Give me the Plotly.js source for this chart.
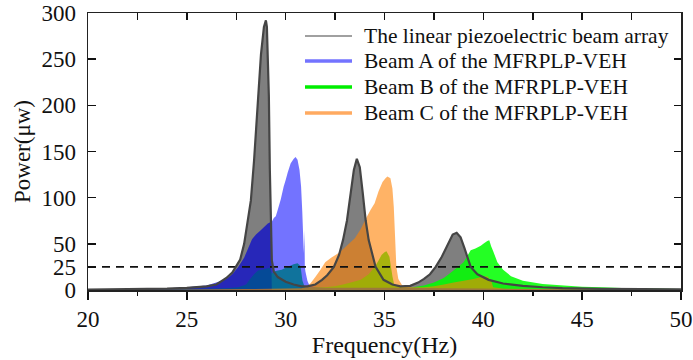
<!DOCTYPE html>
<html>
<head>
<meta charset="utf-8">
<script src="https://cdn.plot.ly/plotly-3.0.1.min.js"></script>
<style>html,body{margin:0;padding:0;background:#fff;}#chart{width:693px;height:360px;}</style>
</head>
<body>
<div id="chart"></div>
<script>
// ---- data ----
const seriesNames = [
  "The linear piezoelectric beam array",
  "Beam A of the MFRPLP-VEH",
  "Beam B of the MFRPLP-VEH",
  "Beam C of the MFRPLP-VEH"
];

const linearFreq  = [20,21,22,23,24,25,25.5,26,26.5,27,27.3,27.5,27.7,27.9,28.1,28.24,28.4,28.58,28.75,28.9,29,29.05,29.1,29.15,29.2,29.25,29.3,29.4,29.6,30,30.4,30.8,31.1,31.5,31.84,32.1,32.44,32.7,32.9,33.1,33.3,33.45,33.6,33.75,33.9,34.05,34.2,34.55,34.95,35.4,35.8,36.3,36.7,37,37.3,37.59,37.9,38.2,38.45,38.65,38.85,39.05,39.2,39.36,39.7,40.27,41,42,43,44,46,50];
const linearPower = [0.4,0.5,0.7,1,1.5,2.3,3,4,6,13,19,26,33,50,75,97,140,206,255,285,292,285,255,210,130,60,32,20,14,9,6,4,4,6,11,16,25,38,54,75,105,130,142,133,105,75,54,25,11,6,4,4.5,8,12,17,25,36,50,60,62,57,45,35,25,17,11,7,4.5,3,2,1.3,0.8];

const beamAFreq  = [20,22,24,25,26,26.5,27,27.3,27.6,27.9,28.1,28.3,28.5,28.7,28.9,29.1,29.2,29.3,29.4,29.5,29.6,29.75,29.9,30,30.1,30.25,30.4,30.5,30.6,30.7,30.78,30.84,30.88,30.92,30.95,30.97,31,31.1,31.2,31.5,32,34,36,38,40,42,50];
const beamAPower = [0.5,1,2,3,5,8,12,17,25,35,45,55,60,64,68,72,73,74,78,80,87,98,112,119,127,137,142,144,141,130,112,85,62,40,65,25,20,10,5,3,2.5,2.5,2.5,2,1.5,1,0.5];
// second (up-sweep) layer of beam A, ending at the jump-down point
const beamAUpFreq  = [20,22,24,25,26,26.5,27,27.3,27.6,27.9,28.1,28.3,28.5,28.7,28.9,29.1,29.2,29.25,29.3];
const beamAUpPower = [0.5,1,2,3,5,8,12,17,25,35,45,55,60,64,68,72,73,73,0];

const beamBFreq  = [20,25,27,27.6,28,28.2,28.4,28.6,28.8,29,29.2,29.3,29.4,29.6,29.8,30,30.2,30.4,30.6,30.75,30.85,30.95,31.2,32,32.5,32.9,33.3,33.8,34.2,34.5,34.7,34.85,35,35.1,35.25,35.4,35.5,35.8,36.3,37,37.5,38,38.3,38.6,39,39.36,39.6,39.87,40,40.2,40.3,40.4,40.5,40.71,41,41.4,42,43,44.26,45,46,47,48.5,50];
const beamBPower = [0.3,1,2,3,6,12,17,21,22,23,24,18,20,21,22,24,26,28,29,26,10,4,3,3,4,6,8,11,17,25,32,38,41,42,36,15,5,3,2.5,5,8,13,18,23,30,43,45,48,50,53,54,47,42,30,22,15,10,6.5,4.5,3.5,3,2.2,1.5,1];

const beamCFreq  = [20,25,28,30,30.8,31,31.25,31.5,31.76,32,32.3,32.6,32.9,33.2,33.5,33.8,34.1,34.3,34.5,34.7,34.9,35.05,35.15,35.3,35.4,35.47,35.55,35.6,35.7,35.9,36.3,37,37.5,38,38.5,39,39.5,39.9,40.2,40.4,40.5,41,43,50];
const beamCPower = [0.3,0.5,1,1.5,2,3,7,14,22,30,35,39,44,50,56,66,79,87,94,107,117,121,123,121,110,90,50,25,12,5,3,3,4,6,8,10,12,14,15,10,3,1.5,1,0.5];

const threshold = 25;
const xRange = [20, 50];
const yRange = [0, 300];
const yTicks = [0, 25, 50, 100, 150, 200, 250, 300];

// ---- styling ----
const serif = "Liberation Serif, Times New Roman, serif";
const legendColors = ["#a0a0a0", "#7373ff", "#00ee00", "#ffaa60"];
const legendWidths = [2, 3.5, 3.5, 3.5];

const traces = [
  {x: linearFreq, y: linearPower, type: "scatter", mode: "none", fill: "tozeroy",
   fillcolor: "rgba(60,60,60,0.66)", showlegend: false, hoverinfo: "skip"},
  {x: beamBFreq, y: beamBPower, type: "scatter", mode: "none", fill: "tozeroy",
   fillcolor: "rgba(0,255,0,0.86)", showlegend: false, hoverinfo: "skip"},
  {x: beamAFreq, y: beamAPower, type: "scatter", mode: "none", fill: "tozeroy",
   fillcolor: "rgba(0,0,255,0.55)", showlegend: false, hoverinfo: "skip"},
  {x: beamAUpFreq, y: beamAUpPower, type: "scatter", mode: "none", fill: "tozeroy",
   fillcolor: "rgba(0,0,160,0.3)", showlegend: false, hoverinfo: "skip"},
  {x: beamCFreq, y: beamCPower, type: "scatter", mode: "none", fill: "tozeroy",
   fillcolor: "rgba(255,128,0,0.6)", showlegend: false, hoverinfo: "skip"},
  {x: xRange, y: [threshold, threshold], type: "scatter", mode: "lines",
   line: {color: "#111", width: 1.6, dash: "8px,6px"}, showlegend: false, hoverinfo: "skip"},
  {x: linearFreq, y: linearPower, type: "scatter", mode: "lines",
   line: {color: "#454545", width: 2.2}, showlegend: false, hoverinfo: "skip"},
  // dummy trace for mirrored inside ticks (top / right)
  {x: [null], y: [null], xaxis: "x2", yaxis: "y2", type: "scatter", mode: "lines",
   showlegend: false, hoverinfo: "skip"}
];

// hand-placed legend (paper coordinates) so the row spacing matches the reference
const plotL = 88, plotR = 681, plotT = 13, plotB = 290;
const px2x = p => (p - plotL) / (plotR - plotL);
const px2y = p => (plotB - p) / (plotB - plotT);
const legendRows = [36, 61, 87, 113];
const shapes = [];
const annotations = [];
seriesNames.forEach((name, i) => {
  shapes.push({type: "line", xref: "paper", yref: "paper",
    x0: px2x(305), x1: px2x(352), y0: px2y(legendRows[i]), y1: px2y(legendRows[i]),
    line: {color: legendColors[i], width: legendWidths[i]}});
  annotations.push({xref: "paper", yref: "paper", x: px2x(362), y: px2y(legendRows[i]),
    xanchor: "left", yanchor: "middle", showarrow: false, text: name,
    font: {family: serif, size: 21.5, color: "#111"}});
});

const layout = {
  width: 693, height: 360,
  margin: {l: plotL, r: 693 - plotR, t: plotT, b: 360 - plotB},
  paper_bgcolor: "#fff", plot_bgcolor: "#fff",
  font: {family: serif, color: "#111", size: 21},
  showlegend: false,
  shapes: shapes,
  annotations: annotations,
  xaxis: {range: xRange, dtick: 5, tick0: 20, ticks: "outside", ticklen: 8, tickwidth: 1.5,
          tickcolor: "#111", showline: true, linecolor: "#222", linewidth: 1.5, mirror: true,
          showgrid: false, zeroline: false,
          minor: {ticks: "outside", ticklen: 4, dtick: 2.5, tick0: 20, tickcolor: "#111", tickwidth: 1.5},
          tickfont: {family: serif, size: 23, color: "#111"},
          title: {text: "Frequency(Hz)", font: {family: serif, size: 24, color: "#111"}, standoff: 5}},
  yaxis: {range: yRange, tickvals: yTicks, ticks: "inside", ticklen: 8, tickwidth: 1.5,
          tickcolor: "#111", showline: true, linecolor: "#222", linewidth: 1.5, mirror: true,
          showgrid: false, zeroline: false, ticklabelstandoff: 6,
          tickfont: {family: serif, size: 23, color: "#111"},
          title: {text: "Power(μw)", font: {family: serif, size: 23, color: "#111"}, standoff: 4}},
  xaxis2: {overlaying: "x", side: "top", anchor: "y", range: xRange, dtick: 2.5, tick0: 20,
           ticks: "inside", ticklen: 7, tickwidth: 1.5, tickcolor: "#111",
           showticklabels: false, showgrid: false, zeroline: false, showline: false},
  yaxis2: {overlaying: "y", side: "right", anchor: "x", range: yRange, tickvals: yTicks,
           ticks: "inside", ticklen: 7, tickwidth: 1.5, tickcolor: "#111",
           showticklabels: false, showgrid: false, zeroline: false, showline: false}
};

Plotly.newPlot("chart", traces, layout, {staticPlot: true, displayModeBar: false});
</script>
</body>
</html>
